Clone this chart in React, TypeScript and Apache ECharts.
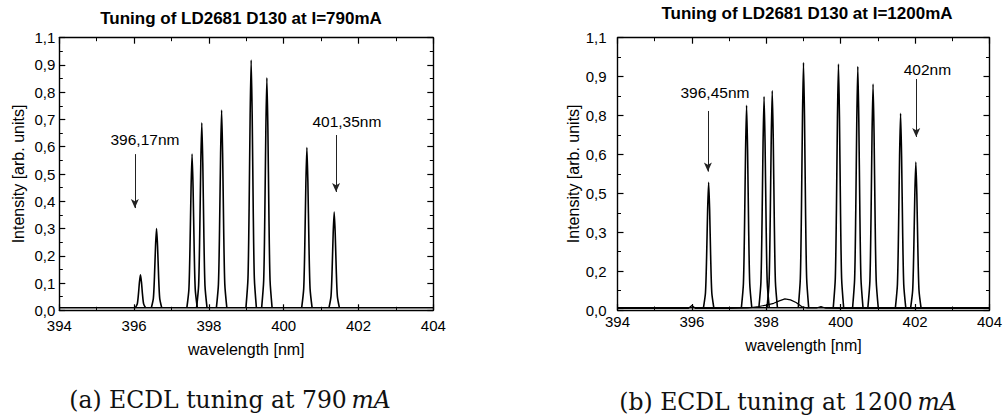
import React, { useEffect, useRef } from "react";
import * as echarts from "echarts";

// ---- data ----
const X_MIN = 394;
const X_MAX = 404;
const X_INTERVAL = 2;

const LEFT_Y_LABELS = ["0,0", "0,1", "0,2", "0,3", "0,4", "0,5", "0,6", "0,7", "0,8", "0,9", "1,1"];
const RIGHT_Y_LABELS = ["0,0", "0,2", "0,3", "0,5", "0,6", "0,8", "0,9", "1,1"];

const LEFT_PEAK_CENTERS = [396.17, 396.6, 397.55, 397.81, 398.34, 399.13, 399.55, 400.62, 401.35];
const LEFT_PEAK_HEIGHTS = [0.13, 0.3, 0.573, 0.688, 0.735, 0.918, 0.853, 0.597, 0.36];

const RIGHT_PEAK_CENTERS = [396.45, 397.47, 397.94, 398.16, 399.0, 399.94, 400.46, 400.87, 401.61, 402.02];
const RIGHT_PEAK_HEIGHTS = [0.516, 0.827, 0.862, 0.886, 1.0, 0.994, 0.983, 0.913, 0.795, 0.598];

// relative line shape of one laser line (offset in nm, fraction of peak height)
const PEAK_OFFSETS = [-0.14, -0.085, -0.055, -0.027, 0, 0.027, 0.055, 0.085, 0.14];
const PEAK_PROFILE = [0, 0.12, 0.4, 0.78, 1, 0.78, 0.4, 0.12, 0];
const BASELINE = 0.009;

// weak background trace in the 1200 mA scan
const LOW_TRACE_X = [394, 395.9, 396.0, 396.1, 397.0, 397.5, 397.8, 398.0, 398.2, 398.35, 398.5, 398.65, 398.8, 398.95, 399.1, 399.35, 399.47, 399.6, 400.0, 404];
const LOW_TRACE_Y = [0.006, 0.006, 0.018, 0.006, 0.006, 0.008, 0.014, 0.02, 0.027, 0.037, 0.045, 0.041, 0.03, 0.014, 0.008, 0.008, 0.014, 0.007, 0.006, 0.006];

// annotations
const LEFT_NOTE_TEXT = ["396,17nm", "401,35nm"];
const LEFT_NOTE_TEXT_X = [396.29, 401.69];
const LEFT_NOTE_TEXT_Y = [0.625, 0.692];
const LEFT_ARROW_X = [396.02, 401.4];
const LEFT_ARROW_FROM = [0.573, 0.643];
const LEFT_ARROW_TO = [0.375, 0.434];

const RIGHT_NOTE_TEXT = ["396,45nm", "402nm"];
const RIGHT_NOTE_TEXT_X = [396.62, 402.33];
const RIGHT_NOTE_TEXT_Y = [0.878, 0.97];
const RIGHT_ARROW_X = [396.43, 402.03];
const RIGHT_ARROW_FROM = [0.804, 0.933];
const RIGHT_ARROW_TO = [0.559, 0.699];

const TITLES = ["Tuning of LD2681 D130 at I=790mA", "Tuning of LD2681 D130 at I=1200mA"];
const X_NAME = "wavelength [nm]";
const Y_NAME = "Intensity [arb. units]";

const SANS = "Liberation Sans, Arial, sans-serif";
const SERIF = "DejaVu Serif, Liberation Serif, serif";

function buildPeak(center: number, height: number) {
  return PEAK_OFFSETS.map((o, i) => [center + o, BASELINE + (height - BASELINE) * PEAK_PROFILE[i]]);
}

function axisCommon() {
  return {
    axisLine: { show: true, onZero: false, lineStyle: { color: "#000", width: 1.4 } },
    axisTick: { show: true, inside: true, length: 6, lineStyle: { color: "#000", width: 1.2 } },
    minorTick: { show: true, splitNumber: 2, length: 3.5, lineStyle: { color: "#000", width: 1 } },
    splitLine: { show: false },
    minorSplitLine: { show: false },
  };
}

function xAxes(gridIndex: number, labelMargin: number, nameGap: number) {
  return [
    {
      type: "value",
      gridIndex,
      position: "bottom",
      min: X_MIN,
      max: X_MAX,
      interval: X_INTERVAL,
      ...axisCommon(),
      axisLabel: { margin: labelMargin, color: "#000", fontFamily: SANS, fontSize: 15 },
      name: X_NAME,
      nameLocation: "middle",
      nameGap,
      nameTextStyle: { color: "#000", fontFamily: SANS, fontSize: 16 },
    },
    {
      type: "value",
      gridIndex,
      position: "top",
      min: X_MIN,
      max: X_MAX,
      interval: X_INTERVAL,
      ...axisCommon(),
      axisLabel: { show: false },
    },
  ];
}

function yAxes(gridIndex: number, max: number, interval: number, labels: string[], labelMargin: number, nameGap: number) {
  return [
    {
      type: "value",
      gridIndex,
      position: "left",
      min: 0,
      max,
      interval,
      ...axisCommon(),
      axisLabel: {
        margin: labelMargin,
        color: "#000",
        fontFamily: SANS,
        fontSize: 15,
        formatter: (v: number) => labels[Math.round(v / interval)] ?? "",
      },
      name: Y_NAME,
      nameLocation: "middle",
      nameRotate: 90,
      nameGap,
      nameTextStyle: { color: "#000", fontFamily: SANS, fontSize: 16 },
    },
    {
      type: "value",
      gridIndex,
      position: "right",
      min: 0,
      max,
      interval,
      ...axisCommon(),
      axisLabel: { show: false },
    },
  ];
}

function peakSeries(centers: number[], heights: number[], xIdx: number, yIdx: number) {
  return centers.map((c, i) => ({
    type: "line",
    xAxisIndex: xIdx,
    yAxisIndex: yIdx,
    data: buildPeak(c, heights[i]),
    symbol: "none",
    smooth: 0.25,
    lineStyle: { color: "#000", width: 1.6 },
    silent: true,
  }));
}

function noteSeries(
  texts: string[], tx: number[], ty: number[], ax: number[], from: number[], to: number[],
  xIdx: number, yIdx: number
) {
  return {
    type: "scatter",
    xAxisIndex: xIdx,
    yAxisIndex: yIdx,
    symbol: "circle",
    symbolSize: 0,
    itemStyle: { color: "#000", opacity: 1 },
    silent: true,
    data: texts.map((t, i) => ({ value: [tx[i], ty[i]], name: t })),
    label: {
      show: true,
      position: "inside",
      formatter: (p: any) => p.name,
      color: "#000",
      opacity: 1,
      textBorderWidth: 0,
      fontFamily: SANS,
      fontSize: 15.5,
    },
    markLine: {
      silent: true,
      symbol: ["none", "arrow"],
      symbolSize: [6, 9],
      label: { show: false },
      lineStyle: { color: "#222", width: 1, type: "solid", opacity: 1 },
      data: ax.map((x, i) => [{ coord: [x, from[i]] }, { coord: [x, to[i]] }]),
    },
  };
}

export default function App() {
  const ref = useRef<HTMLDivElement>(null);

  useEffect(() => {
    if (!ref.current) return;
    const chart = echarts.init(ref.current, null, { renderer: "svg" });
    const rightInterval = 1.1 / 7;

    const baselineData = [[X_MIN, BASELINE], [X_MAX, BASELINE]];

    const option: any = {
      animation: false,
      backgroundColor: "#fff",
      grid: [
        { left: 59.3, top: 37.7, width: 374, height: 272.6 },
        { left: 617.5, top: 37.7, width: 373.5, height: 272.3 },
      ],
      xAxis: [...xAxes(0, 8, 31), ...xAxes(1, 4, 27)],
      yAxis: [
        ...yAxes(0, 1.0, 0.1, LEFT_Y_LABELS, 4, 33),
        ...yAxes(1, 1.1, rightInterval, RIGHT_Y_LABELS, 11, 35),
      ],
      series: [
        {
          type: "line", xAxisIndex: 0, yAxisIndex: 0, data: baselineData, symbol: "none",
          lineStyle: { color: "#000", width: 1.5 }, silent: true,
        },
        ...peakSeries(LEFT_PEAK_CENTERS, LEFT_PEAK_HEIGHTS, 0, 0),
        noteSeries(LEFT_NOTE_TEXT, LEFT_NOTE_TEXT_X, LEFT_NOTE_TEXT_Y, LEFT_ARROW_X, LEFT_ARROW_FROM, LEFT_ARROW_TO, 0, 0),
        {
          type: "line", xAxisIndex: 2, yAxisIndex: 2, data: baselineData, symbol: "none",
          lineStyle: { color: "#000", width: 1.5 }, silent: true,
        },
        {
          type: "line", xAxisIndex: 2, yAxisIndex: 2,
          data: LOW_TRACE_X.map((x, i) => [x, LOW_TRACE_Y[i]]),
          symbol: "none", lineStyle: { color: "#000", width: 1.2 }, silent: true,
        },
        ...peakSeries(RIGHT_PEAK_CENTERS, RIGHT_PEAK_HEIGHTS, 2, 2),
        noteSeries(RIGHT_NOTE_TEXT, RIGHT_NOTE_TEXT_X, RIGHT_NOTE_TEXT_Y, RIGHT_ARROW_X, RIGHT_ARROW_FROM, RIGHT_ARROW_TO, 2, 2),
      ],
      graphic: [
        {
          type: "text", x: 241, y: 18.5,
          style: { text: TITLES[0], font: `bold 17px ${SANS}`, fill: "#000", align: "center", verticalAlign: "middle" },
        },
        {
          type: "text", x: 807, y: 13.5,
          style: { text: TITLES[1], font: `bold 17px ${SANS}`, fill: "#000", align: "center", verticalAlign: "middle" },
        },
        {
          type: "text", x: 230, y: 400,
          style: {
            text: "(a) ECDL tuning at 790\u2009{i|mA}",
            font: `23.5px ${SERIF}`, fill: "#111", align: "center", verticalAlign: "middle",
            rich: { i: { fontStyle: "italic", fontFamily: SERIF, fontSize: 23.5 } },
          },
        },
        {
          type: "text", x: 788, y: 401.5,
          style: {
            text: "(b) ECDL tuning at 1200\u2009{i|mA}",
            font: `23.5px ${SERIF}`, fill: "#111", align: "center", verticalAlign: "middle",
            rich: { i: { fontStyle: "italic", fontFamily: SERIF, fontSize: 23.5 } },
          },
        },
      ],
    };

    chart.setOption(option);
    return () => chart.dispose();
  }, []);

  return (
    <div
      ref={ref}
      style={{ position: "absolute", left: 0, top: 0, width: 1005, height: 417, background: "#fff" }}
    />
  );
}
